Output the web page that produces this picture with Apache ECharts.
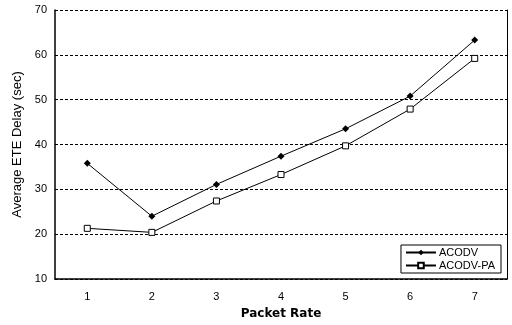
<!DOCTYPE html>
<html>
<head>
<meta charset="utf-8">
<script src="https://cdn.jsdelivr.net/npm/echarts@6/dist/echarts.min.js"></script>
<style>
html,body{margin:0;padding:0;background:#fff;}
#chart{width:512px;height:325px;}
</style>
</head>
<body>
<div id="chart"></div>
<script>
// Packet rate categories and average end-to-end delay per protocol
const packetRates = ['1', '2', '3', '4', '5', '6', '7'];
const acodvDelay = [35.8, 24.0, 31.1, 37.4, 43.5, 50.8, 63.3];
const acodvPaDelay = [21.3, 20.4, 27.4, 33.3, 39.7, 47.9, 59.2];
const yTicks = [10, 20, 30, 40, 50, 60, 70];

const chart = echarts.init(document.getElementById('chart'));
const font = 'Liberation Sans, Arial, sans-serif';

chart.setOption({
  animation: false,
  backgroundColor: '#fff',
  grid: { left: 55, right: 5, top: 10, bottom: 46 },
  legend: {
    orient: 'vertical',
    right: 11,
    bottom: 52,
    backgroundColor: '#fff',
    borderColor: '#000',
    borderWidth: 1,
    borderRadius: 0,
    padding: [2, 6, 2, 4],
    itemGap: 2,
    itemWidth: 30,
    itemHeight: 7,
    textStyle: { fontFamily: font, fontSize: 11, color: '#000', padding: [0, 0, 0, -2] },
    data: ['ACODV', 'ACODV-PA']
  },
  xAxis: {
    type: 'category',
    data: packetRates,
    boundaryGap: true,
    name: 'Packet Rate',
    nameLocation: 'middle',
    nameGap: 29,
    nameTextStyle: { fontFamily: 'DejaVu Sans, sans-serif', fontSize: 12, fontWeight: 'bold', color: '#000' },
    axisLine: { lineStyle: { color: '#000', width: 1.5 } },
    axisTick: { show: false },
    axisLabel: { fontFamily: font, fontSize: 11, color: '#000', margin: 12 }
  },
  yAxis: [
    {
      type: 'value',
      min: yTicks[0],
      max: yTicks[yTicks.length - 1],
      interval: 10,
      name: 'Average ETE Delay (sec)',
      nameLocation: 'middle',
      nameGap: 31,
      nameTextStyle: { fontFamily: font, fontSize: 13, color: '#000' },
      axisLine: { show: true, lineStyle: { color: '#000', width: 1.5 } },
      axisTick: { show: false },
      axisLabel: { fontFamily: font, fontSize: 11, color: '#000', margin: 8 },
      splitLine: { show: true, lineStyle: { color: '#000', type: [3, 2], width: 1 } }
    },
    {
      type: 'value',
      min: yTicks[0],
      max: yTicks[yTicks.length - 1],
      interval: 10,
      position: 'right',
      axisLine: { show: true, lineStyle: { color: '#000', width: 1 } },
      axisTick: { show: false },
      axisLabel: { show: false },
      splitLine: { show: false }
    }
  ],
  series: [
    {
      name: 'ACODV',
      type: 'line',
      data: acodvDelay,
      symbol: 'diamond',
      symbolSize: 7,
      itemStyle: { color: '#000' },
      lineStyle: { color: '#000', width: 1 }
    },
    {
      name: 'ACODV-PA',
      type: 'line',
      data: acodvPaDelay,
      symbol: 'rect',
      symbolSize: 6,
      itemStyle: { color: '#fff', borderColor: '#000', borderWidth: 1 },
      lineStyle: { color: '#000', width: 1 }
    }
  ]
});
</script>
</body>
</html>
